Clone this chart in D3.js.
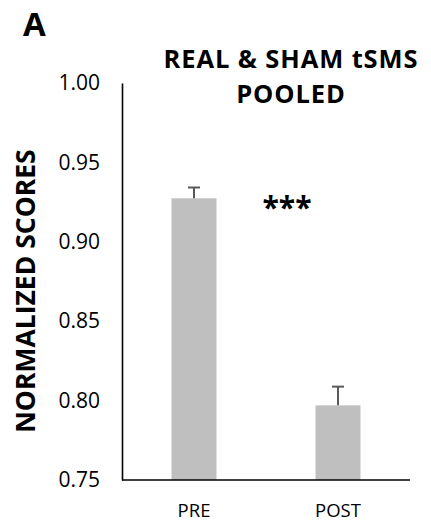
<!DOCTYPE html>
<html>
<head>
<meta charset="utf-8">
<script src="https://cdn.jsdelivr.net/npm/d3@7"></script>
<style>
  html, body { margin: 0; padding: 0; background: #fff; }
  svg { display: block; }
  text { font-family: "Open Sans", sans-serif; }
</style>
</head>
<body>
<svg id="chart" width="431" height="527"></svg>
<script>
const categories = ["PRE", "POST"];
const values = [0.9274, 0.797];
const errors = [0.0068, 0.0118];
const yTicks = [0.75, 0.80, 0.85, 0.90, 0.95, 1.00];
const titleLines = ["REAL & SHAM tSMS", "POOLED"];
const yLabel = "NORMALIZED SCORES";
const panelLabel = "A";
const sigLabel = "***";

const svg = d3.select("#chart");
const m = { left: 122, right: 410, top: 83, bottom: 480 };

const x = d3.scaleBand().domain(categories).range([m.left, m.right])
  .paddingInner(0.6875).paddingOuter(0.34375);
const y = d3.scaleLinear().domain([0.75, 1.0]).range([m.bottom, m.top]);

// bars
svg.selectAll("rect.bar").data(categories).join("rect")
  .attr("class", "bar")
  .attr("x", d => x(d))
  .attr("width", x.bandwidth())
  .attr("y", (d, i) => y(values[i]))
  .attr("height", (d, i) => y(0.75) - y(values[i]))
  .attr("fill", "#bfbfbf");

// error bars
const eg = svg.selectAll("g.err").data(categories).join("g").attr("class", "err");
eg.append("line")
  .attr("x1", d => x(d) + x.bandwidth() / 2)
  .attr("x2", d => x(d) + x.bandwidth() / 2)
  .attr("y1", (d, i) => y(values[i]))
  .attr("y2", (d, i) => y(values[i] + errors[i]))
  .attr("stroke", "#595959").attr("stroke-width", 2);
eg.append("line")
  .attr("x1", d => x(d) + x.bandwidth() / 2 - 6)
  .attr("x2", d => x(d) + x.bandwidth() / 2 + 6)
  .attr("y1", (d, i) => y(values[i] + errors[i]))
  .attr("y2", (d, i) => y(values[i] + errors[i]))
  .attr("stroke", "#595959").attr("stroke-width", 2);

// y axis
const yAxis = d3.axisLeft(y).tickValues(yTicks).tickFormat(d3.format(".2f")).tickSize(0).tickPadding(22);
const ya = svg.append("g").attr("transform", `translate(${m.left},0)`).call(yAxis);
ya.select(".domain").attr("stroke", "#000").attr("stroke-width", 1.6);
ya.selectAll("text").attr("font-size", 21).attr("fill", "#000")
  .style("font-family", "'Open Sans', sans-serif");

// x axis
const xAxis = d3.axisBottom(x).tickSize(0).tickPadding(24);
const xa = svg.append("g").attr("transform", `translate(0,${m.bottom})`).call(xAxis);
xa.select(".domain").attr("stroke", "#000").attr("stroke-width", 1.6)
  .attr("d", `M${m.left},0H${m.right}`);
xa.selectAll("text").attr("font-size", 18.5).attr("fill", "#000")
  .style("font-family", "'Open Sans', sans-serif");

// title
svg.append("text").attr("x", 291).attr("y", 68).attr("text-anchor", "middle")
  .attr("font-size", 25.5).attr("font-weight", "bold").attr("letter-spacing", 0.9)
  .text(titleLines[0]);
svg.append("text").attr("x", 291).attr("y", 103).attr("text-anchor", "middle")
  .attr("font-size", 25.5).attr("font-weight", "bold").attr("letter-spacing", 0.9)
  .text(titleLines[1]);

// y label
svg.append("text").attr("transform", "translate(35,291) rotate(-90)")
  .attr("text-anchor", "middle").attr("font-size", 26.5).attr("font-weight", "bold")
  .text(yLabel);

// panel label
svg.append("text").attr("x", 23).attr("y", 36).attr("font-size", 33)
  .attr("font-weight", "bold").text(panelLabel);

// significance
svg.append("text").attr("x", 287).attr("y", 218).attr("text-anchor", "middle")
  .attr("font-size", 30).attr("font-weight", "bold").text(sigLabel);
</script>
</body>
</html>
